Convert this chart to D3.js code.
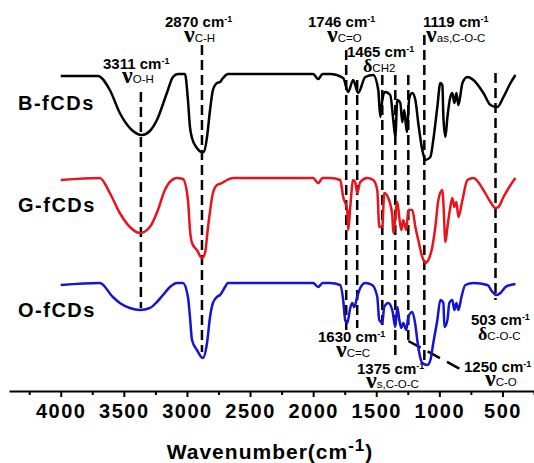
<!DOCTYPE html>
<html>
<head>
<meta charset="utf-8">
<script src="https://cdn.jsdelivr.net/npm/d3@7"></script>
<style>
  body { margin: 0; background: #fff; }
  svg { display: block; }
</style>
</head>
<body>
<div id="chart"></div>
<script>
// spectra: [wavenumber cm-1, transmittance a.u.]
var bFCDs = [[4000,98],[3706,98],[3611,84],[3532,61],[3437,44],[3357,39],[3294,43],[3238,54],[3159,81],[3111,97],[3071,100],[3016,100],[2992,74],[2976,47],[2960,36],[2921,26],[2881,22],[2865,22],[2841,37],[2817,64],[2794,84],[2762,91],[2738,92],[2714,96],[2675,100],[2000,100],[1960,95],[1925,100],[1865,100],[1762,96],[1722,82],[1683,94],[1643,81],[1587,97],[1524,99],[1484,84],[1468,57],[1452,74],[1429,82],[1389,79],[1365,54],[1349,37],[1333,74],[1309,71],[1294,52],[1278,64],[1258,42],[1238,76],[1214,81],[1190,74],[1167,51],[1135,24],[1111,14],[1071,17],[1048,34],[1016,67],[992,91],[976,89],[968,57],[952,37],[936,57],[913,77],[897,81],[881,71],[865,81],[849,69],[817,91],[778,97],[730,94],[651,81],[595,69],[540,67],[492,77],[436,91],[397,99]];

var gFCDs = [[4000,98],[3691,100],[3611,85],[3532,65],[3452,51],[3373,45],[3294,51],[3230,68],[3175,88],[3119,98],[3079,100],[3032,99],[2992,78],[2976,48],[2960,35],[2921,28],[2881,20],[2857,25],[2833,51],[2794,85],[2762,93],[2722,95],[2683,98],[2635,100],[2000,100],[1960,95],[1925,100],[1865,100],[1786,98],[1762,81],[1730,68],[1722,48],[1706,71],[1683,98],[1667,96],[1651,85],[1627,96],[1571,100],[1524,98],[1492,88],[1476,51],[1452,51],[1437,85],[1405,80],[1373,63],[1365,45],[1333,76],[1317,60],[1301,48],[1286,58],[1262,48],[1246,68],[1214,68],[1190,51],[1167,38],[1135,21],[1111,15],[1087,18],[1056,31],[1032,51],[1008,78],[976,88],[968,75],[952,36],[936,51],[913,71],[897,80],[881,71],[865,76],[849,61],[817,78],[778,98],[730,100],[651,88],[595,76],[556,70],[532,71],[492,81],[436,93],[397,100]];

var oFCDs = [[4000,98],[3691,100],[3587,86],[3532,80],[3452,75],[3373,73],[3294,75],[3238,81],[3190,88],[3135,96],[3079,100],[3032,100],[2992,86],[2976,66],[2960,43],[2921,33],[2873,25],[2841,40],[2817,66],[2794,80],[2762,86],[2738,88],[2698,96],[2675,100],[2000,100],[1960,96],[1925,100],[1865,100],[1786,98],[1762,83],[1746,63],[1730,60],[1706,75],[1690,80],[1675,76],[1651,86],[1627,95],[1587,100],[1532,98],[1492,86],[1476,63],[1452,60],[1437,76],[1405,80],[1373,73],[1349,56],[1333,76],[1317,63],[1301,55],[1286,60],[1262,53],[1246,66],[1214,71],[1190,58],[1175,43],[1159,30],[1135,20],[1095,18],[1071,23],[1048,40],[1016,63],[992,83],[968,80],[960,56],[936,63],[921,80],[897,83],[881,73],[865,80],[849,73],[825,86],[794,98],[730,100],[619,98],[579,91],[548,88],[516,90],[476,96],[436,98],[397,99]];

var sampleNames = ["B-fCDs", "G-fCDs", "O-fCDs"];
var sampleColors = ["#000000", "#e8141c", "#1414d2"];

// band assignments (label text) and where the dashed guide sits on the spectra
var bandLabels = ["3311", "2870", "1746", "1630", "1465", "1375", "1250", "1119", "503"];
var bandSymbols = ["ν", "ν", "ν", "ν", "δ", "ν", "ν", "ν", "δ"];
var bandGroups = ["O-H", "C-H", "C=O", "C=C", "CH2", "s,C-O-C", "C-O", "as,C-O-C", "C-O-C"];
var bandGuidePos = [3365, 2881, 1738, 1651, 1452, 1349, 1246, 1119, 555];

var majorTicks = [4000, 3500, 3000, 2500, 2000, 1500, 1000, 500];
var minorTicks = [4250, 3750, 3250, 2750, 2250, 1750, 1250, 750, 250];

var width = 534, height = 463;
var axisY = 391;

var svg = d3.select("#chart").append("svg")
    .attr("width", width)
    .attr("height", height);

var x = d3.scaleLinear().domain([4410, 250]).range([9, 534]);
var y = d3.scaleLinear().domain([0, 360]).range([axisY, 31]);

// vertical stacking of the three spectra
var offsets = [217, 113, 8];

// dashed guides, extents in stacked y units
var guideTop = [299, 346, 341, 311, 316, 316, 316, 356, 318];
var guideBottom = [83, 39, 61, 63, 66, 36, 49, 29, 91];

var guides = svg.append("g");
bandGuidePos.forEach(function(w, i) {
    guides.append("line")
        .attr("x1", x(w)).attr("x2", x(w))
        .attr("y1", y(guideTop[i])).attr("y2", y(guideBottom[i]))
        .attr("stroke", "#000")
        .attr("stroke-width", 2.5)
        .attr("stroke-dasharray", "10,5");
});
// leader for the 1250 band
guides.append("line")
    .attr("x1", x(1246)).attr("y1", y(guideBottom[6]) - 1)
    .attr("x2", 462).attr("y2", 370)
    .attr("stroke", "#000")
    .attr("stroke-width", 2.5)
    .attr("stroke-dasharray", "14,8");

var line = d3.line()
    .x(function(d) { return x(d[0]); })
    .curve(d3.curveMonotoneX);

[bFCDs, gFCDs, oFCDs].forEach(function(s, i) {
    line.y(function(d) { return y(d[1] + offsets[i]); });
    svg.append("path")
        .datum(s)
        .attr("d", line)
        .attr("fill", "none")
        .attr("stroke", sampleColors[i])
        .attr("stroke-width", 2.5)
        .attr("stroke-linejoin", "round");
});

// sample names
var nameBase = [110, 212, 317];
sampleNames.forEach(function(n, i) {
    svg.append("text")
        .attr("x", 18)
        .attr("y", nameBase[i])
        .style("font-family", "Liberation Sans, Arial, sans-serif")
        .style("font-weight", "bold")
        .style("font-size", "20px")
        .style("letter-spacing", "1.5px")
        .text(n);
});

// band annotation layout: [num x, num baseline, symbol x, symbol baseline]
var labelPos = [
    [103, 69, 122, 83],
    [165, 27, 184, 42],
    [308, 27, 327, 42],
    [318, 342, 336, 357],
    [347, 57, 363, 72],
    [357, 374, 366, 388],
    [464, 372, 485, 386],
    [423, 27, 426, 42],
    [471, 325, 478, 340]
];

bandLabels.forEach(function(lab, i) {
    var p = labelPos[i];
    var t = svg.append("text")
        .attr("x", p[0]).attr("y", p[1])
        .style("font-family", "Liberation Sans, Arial, sans-serif")
        .style("font-weight", "bold")
        .style("font-size", "15px");
    t.append("tspan").text(lab + " cm");
    t.append("tspan").attr("dy", -5).style("font-size", "9px").text("-1");

    var g = svg.append("text")
        .attr("x", p[2]).attr("y", p[3]);
    g.append("tspan")
        .style("font-family", "Liberation Serif, Times New Roman, serif")
        .style("font-weight", "bold")
        .style("font-size", bandSymbols[i] == "ν" ? "24px" : "18px")
        .text(bandSymbols[i]);
    g.append("tspan")
        .style("font-family", "Liberation Sans, Arial, sans-serif")
        .style("font-size", "11.5px")
        .text(bandGroups[i]);
});

// x axis
var axis = svg.append("g")
    .attr("transform", "translate(0," + axisY + ")")
    .call(d3.axisBottom(x)
        .tickValues(majorTicks)
        .tickSize(6)
        .tickSizeOuter(0)
        .tickPadding(7)
        .tickFormat(d3.format("d")));

axis.select(".domain").attr("stroke-width", 2);
axis.selectAll(".tick line").attr("stroke-width", 2);
axis.selectAll(".tick text")
    .style("font-family", "Liberation Sans, Arial, sans-serif")
    .style("font-weight", "bold")
    .style("font-size", "20px")
    .style("letter-spacing", "1.5px")
    .attr("fill", "#000");

var minor = svg.append("g")
    .attr("transform", "translate(0," + axisY + ")")
    .call(d3.axisBottom(x).tickValues(minorTicks).tickSize(4).tickSizeOuter(0).tickFormat(""));
minor.select(".domain").remove();
minor.selectAll(".tick line").attr("stroke-width", 2);

var title = svg.append("text")
    .attr("x", 270)
    .attr("y", 459)
    .attr("text-anchor", "middle")
    .style("font-family", "Liberation Sans, Arial, sans-serif")
    .style("font-weight", "bold")
    .style("font-size", "21px")
    .style("letter-spacing", "1px");
title.append("tspan").text("Wavenumber(cm");
title.append("tspan").attr("dy", -8).style("font-size", "17px").text("-1");
title.append("tspan").attr("dy", 8).text(")");
</script>
</body>
</html>
